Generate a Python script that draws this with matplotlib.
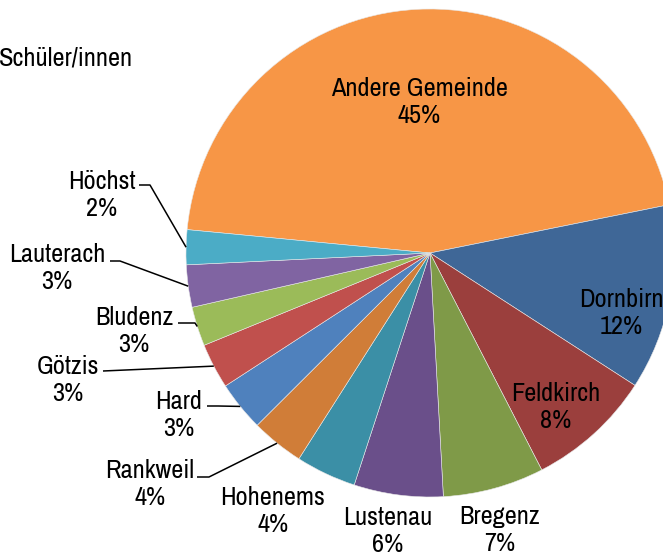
import matplotlib
matplotlib.use("Agg")
import matplotlib.pyplot as plt
import numpy as np

plt.rcParams["font.family"] = ["Archivo Narrow", "DejaVu Sans"]

# data (share of pupils by home municipality, %)
places = ["Andere Gemeinde", "Dornbirn", "Feldkirch", "Bregenz", "Lustenau",
          "Hohenems", "Rankweil", "Hard", "Götzis", "Bludenz", "Lauterach", "Höchst"]
shares = [45.3, 12.3, 8.3, 6.7, 5.9, 4.0, 3.5, 3.3, 3.0, 2.6, 2.8, 2.3]
colors = ["#F79646", "#3F6797", "#9B3F3D", "#7F9A48", "#6A4F8A", "#3B8FA6",
          "#D07D38", "#4F81BD", "#C0504D", "#9BBB59", "#8064A2", "#4BACC6"]

# layout, in pixel units (y from top)
W, H = 663, 554
cx, cy, R = 430, 253, 244
label_pos = {
    "Andere Gemeinde": (419, 102), "Dornbirn": (621, 313), "Feldkirch": (556, 407),
    "Bregenz": (500, 530), "Lustenau": (388, 531), "Hohenems": (273, 511),
    "Rankweil": (150, 484), "Hard": (179, 415), "Götzis": (68, 380),
    "Bludenz": (134, 331), "Lauterach": (57, 268), "Höchst": (102, 195),
}
# leader line start (x, y) and length of the horizontal stub
leaders = {
    "Höchst": (139, 185, 11), "Lauterach": (110, 261, 10), "Bludenz": (178, 323, 17),
    "Götzis": (103, 371, 0), "Hard": (207, 406, 11), "Rankweil": (197, 477, 12),
}

fig = plt.figure(figsize=(W / 100, H / 100), dpi=100)
ax = fig.add_axes([0, 0, 1, 1])
wedges, _ = ax.pie(shares, colors=colors, startangle=174.5, counterclock=False,
                   center=(cx, H - cy), radius=R, frame=True,
                   wedgeprops=dict(edgecolor="#e8e8e8", linewidth=0.4))
ax.set_xlim(0, W)
ax.set_ylim(0, H)
ax.set_aspect("equal")
ax.axis("off")

for name, val, w in zip(places, shares, wedges):
    x, y = label_pos[name]
    ax.text(x, H - y, f"{name}\n{round(val):.0f}%", ha="center", va="center",
            fontsize=19, linespacing=1.22, color="black")
    if name in leaders:
        sx, sy, stub = leaders[name]
        mid = np.deg2rad((w.theta1 + w.theta2) / 2)
        px, py = cx + R * np.cos(mid), (H - cy) + R * np.sin(mid)
        ax.plot([sx, sx + stub, px], [H - sy, H - sy, py], color="black", lw=1.1,
                solid_capstyle="butt")

ax.text(-1, H - 58, "Schüler/innen", ha="left", va="center", fontsize=19)

fig.savefig("out.png", dpi=100)
